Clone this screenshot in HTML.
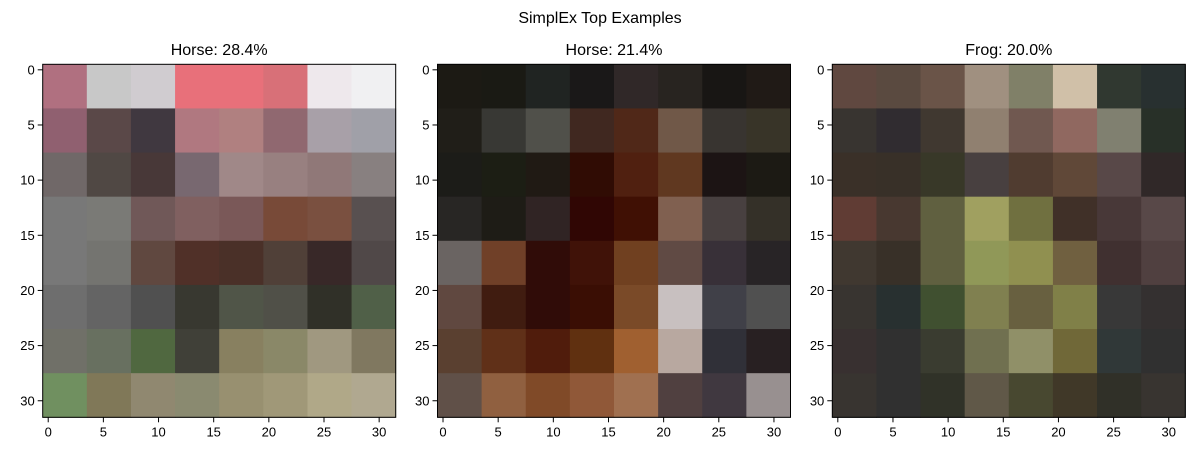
<!DOCTYPE html>
<html><head><meta charset="utf-8"><style>
html,body{margin:0;padding:0;background:#fff;}
svg text{font-family:"Liberation Sans","DejaVu Sans",sans-serif;fill:#000;}
</style></head><body>
<svg id="fig" width="1200" height="450" viewBox="0 0 1200 450" xmlns="http://www.w3.org/2000/svg">
<rect width="1200" height="450" fill="#fff"/>
<text x="600" y="23" text-anchor="middle" font-size="16">SimplEx Top Examples</text>
</svg>
<script>
const titles = ["Horse: 28.4%", "Horse: 21.4%", "Frog: 20.0%"];
const ticks = [0,5,10,15,20,25,30];
const img1 = [
["#b07080","#c8c8c8","#d0ccd0","#e8707a","#e8707a","#d87078","#eee8ec","#f0f0f2"],
["#906070","#5a4848","#403840","#b07880","#b08080","#906870","#a8a0a8","#a0a0a8"],
["#706868","#504844","#483838","#786870","#a08888","#988080","#907878","#888080"],
["#787878","#7a7a76","#705858","#806060","#7a5858","#784a38","#7a5040","#585050"],
["#787878","#747470","#604840","#503028","#4a3028","#504038","#382828","#504848"],
["#6e6e6e","#646464","#505050","#383830","#505548","#505048","#303028","#506048"],
["#707068","#687060","#506840","#404038","#888060","#8a8868","#a09880","#807860"],
["#709060","#807858","#908870","#8a8a70","#989070","#a09878","#b0a888","#b0a890"]];
const img2 = [
["#1c1a14","#1a1a14","#202422","#1a1818","#302828","#282420","#181614","#201a16"],
["#201e18","#383834","#50504a","#402820","#502818","#705848","#383430","#383428"],
["#1c1c18","#1c1e14","#201a14","#300c04","#502010","#603820","#1c1414","#1c1a14"],
["#282624","#1e1c16","#302424","#300604","#401004","#806050","#484040","#343028"],
["#6a6462","#704028","#300c08","#401208","#704020","#604a44","#383038","#282426"],
["#604840","#401c10","#300c08","#3a0e04","#7a4a28","#c8c0c0","#404048","#505050"],
["#5a4030","#603018","#501c0c","#603010","#a06030","#b8a8a0","#303038","#282022"],
["#605048","#906040","#804a28","#905838","#a07050","#504040","#403840","#989090"]];
const img3 = [
["#604840","#5a4a40","#6a5448","#a09080","#808068","#d0c0a8","#303830","#283030"],
["#383430","#302c30","#403830","#908070","#705850","#906860","#808070","#283028"],
["#3a3028","#383028","#383828","#484040","#503c30","#604838","#584848","#302828"],
["#603c34","#483830","#606040","#a0a060","#707040","#403028","#483838","#584848"],
["#403830","#383028","#606040","#909858","#909050","#706040","#403030","#504040"],
["#383430","#283030","#405030","#808050","#686040","#808048","#383838","#343030"],
["#383030","#303030","#3a3c30","#707050","#909068","#706838","#303838","#303030"],
["#383430","#303030","#303228","#605848","#484830","#403828","#303028","#383430"]];
const images = [img1, img2, img3];
const lefts = [42.7, 437.5, 832.3];
const TOP = 64.3, SIZE = 353, NPX = 32;
const svg = document.getElementById('fig');
const NS = "http://www.w3.org/2000/svg";
function mk(tag, attrs){ const e=document.createElementNS(NS,tag); for(const k in attrs) e.setAttribute(k,attrs[k]); svg.appendChild(e); return e; }
images.forEach((img, p) => {
  const L = lefts[p];
  const sx = v => L + (v + 0.5) * SIZE / NPX;
  const sy = v => TOP + (v + 0.5) * SIZE / NPX;
  const bs = NPX / img.length;
  img.forEach((row, r) => row.forEach((c, k) => {
    const x0 = L + k * bs * SIZE / NPX, y0 = TOP + r * bs * SIZE / NPX;
    const el = mk('rect', {x:x0, y:y0, width:bs*SIZE/NPX+0.5, height:bs*SIZE/NPX+0.5, fill:c});
    
    
  }));
  const fr = mk('rect', {x:L, y:TOP, width:SIZE, height:SIZE, fill:'none', stroke:'#000', 'stroke-width':1});
  
  
  const t = mk('text', {x:L+SIZE/2, y:55, 'text-anchor':'middle', 'font-size':16});
  t.textContent = titles[p];
  
  
  ticks.forEach(v => {
    const x = sx(v), y = sy(v);
    const tx = mk('line', {x1:x, x2:x, y1:TOP+SIZE, y2:TOP+SIZE+5, stroke:'#000'});
    
    
    const lx = mk('text', {x:x, y:TOP+SIZE+19, 'text-anchor':'middle', 'font-size':13});
    lx.textContent = v;
    
    
    const ty = mk('line', {x1:L-5, x2:L, y1:y, y2:y, stroke:'#000'});
    
    
    const ly = mk('text', {x:L-8, y:y+4.5, 'text-anchor':'end', 'font-size':13});
    ly.textContent = v;
    
    
  });
});
</script>
</body></html>
